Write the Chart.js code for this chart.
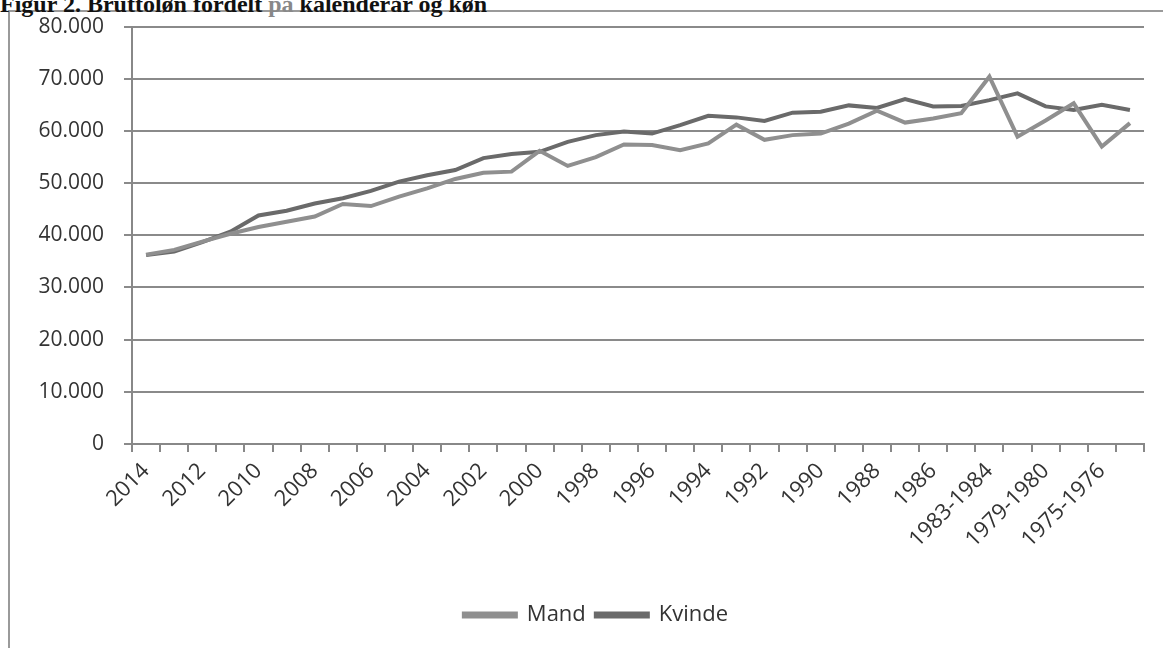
<!DOCTYPE html>
<html>
<head>
<meta charset="utf-8">
<script src="https://cdn.jsdelivr.net/npm/chart.js@4/dist/chart.umd.min.js"></script>
<style>
  html, body { margin: 0; padding: 0; background: #fff; overflow: hidden; }
  #wrap { position: relative; width: 1163px; height: 648px; }
  #title {
    position: absolute; left: 0; top: -8px; white-space: nowrap;
    font: bold 24px "Liberation Serif", "DejaVu Serif", serif; color: #111; line-height: 24px;
  }
  #title .grey { color: #888; }
  #frame {
    position: absolute; left: 8px; top: 10px; width: 1200px; height: 700px;
    border: 2px solid #9a9a9a; box-sizing: border-box;
  }
  #chart { position: absolute; left: 12px; top: -6px; }
</style>
</head>
<body>
<div id="wrap">
  <div id="frame"></div>
  <div id="title">Figur 2. Bruttoløn fordelt <span class="grey">på</span> kalenderår og køn</div>
  <canvas id="chart" width="1168" height="642"></canvas>
</div>
<script>
// kalenderår (newest first, as in the figure)
const categories = [
    '2014','2013','2012','2011','2010','2009','2008','2007','2006','2005',
    '2004','2003','2002','2001','2000','1999','1998','1997','1996','1995',
    '1994','1993','1992','1991','1990','1989','1988','1987','1986','1985',
    '1983-1984','1981-1982','1979-1980','1977-1978','1975-1976','1973-1974'
];

const mand = [
    36300, 37200, 38800, 40300, 41600, 42600, 43600, 46000, 45600, 47400,
    49000, 50800, 52000, 52200, 56200, 53300, 55000, 57400, 57300, 56300,
    57600, 61200, 58300, 59200, 59500, 61400, 63900, 61600, 62400, 63400,
    70400, 58900, 62000, 65300, 57000, 61500
];

const kvinde = [
    36200, 36900, 38700, 40700, 43800, 44700, 46100, 47100, 48500, 50300,
    51500, 52500, 54800, 55600, 56000, 57900, 59200, 59900, 59500, 61100,
    62900, 62600, 61900, 63500, 63700, 64900, 64400, 66100, 64700, 64800,
    65900, 67200, 64700, 64000, 65000, 64000
];

const yTicks = [0, 10000, 20000, 30000, 40000, 50000, 60000, 70000, 80000];

const fontFamily = '"Open Sans", "Liberation Sans", sans-serif';

// legend sits a little right of the plot centre in the original
const shiftLegend = {
    id: 'shiftLegend',
    afterLayout: chart => {
        chart.legend.left += 18;
        chart.legend.right += 18;
    }
};

const ctx = document.getElementById('chart');
new Chart(ctx, {
    type: 'line',
    data: {
        labels: categories,
        datasets: [
            {
                label: 'Mand',
                data: mand,
                borderColor: '#8f8f8f',
                backgroundColor: '#8f8f8f',
                borderWidth: 4,
                pointRadius: 0,
                tension: 0
            },
            {
                label: 'Kvinde',
                data: kvinde,
                borderColor: '#6a6a6a',
                backgroundColor: '#6a6a6a',
                borderWidth: 4,
                pointRadius: 0,
                tension: 0
            }
        ]
    },
    plugins: [shiftLegend],
    options: {
        responsive: false,
        animation: false,
        devicePixelRatio: 1,
        layout: { padding: { top: 1, right: 36, left: 0, bottom: 0 } },
        plugins: {
            tooltip: { enabled: false },
            legend: {
                position: 'bottom',
                labels: {
                    boxWidth: 52,
                    boxHeight: 3,
                    padding: 10,
                    color: '#333',
                    font: { family: fontFamily, size: 22 }
                }
            }
        },
        scales: {
            x: {
                offset: true,
                grid: {
                    offset: true,
                    drawOnChartArea: false,
                    drawTicks: true,
                    tickLength: 8,
                    color: '#888',
                    lineWidth: 2
                },
                border: { color: '#888', width: 2 },
                ticks: {
                    autoSkip: false,
                    minRotation: 45,
                    maxRotation: 45,
                    padding: 6,
                    color: '#333',
                    font: { family: fontFamily, size: 22 },
                    callback: (val, i) => i % 2 === 0 ? categories[i] : ''
                },
                afterFit: scale => { scale.height = 150; }
            },
            y: {
                min: 0,
                max: 80000,
                afterBuildTicks: scale => { scale.ticks = yTicks.map(v => ({ value: v })); },
                grid: {
                    color: '#8a8a8a',
                    lineWidth: 2,
                    drawTicks: true,
                    tickLength: 8
                },
                border: { color: '#888', width: 2 },
                ticks: {
                    padding: 20,
                    color: '#333',
                    font: { family: fontFamily, size: 21 },
                    callback: v => v === 0 ? '0' : v.toLocaleString('da-DK')
                },
                afterFit: scale => { scale.width = 120; }
            }
        }
    }
});
</script>
</body>
</html>
